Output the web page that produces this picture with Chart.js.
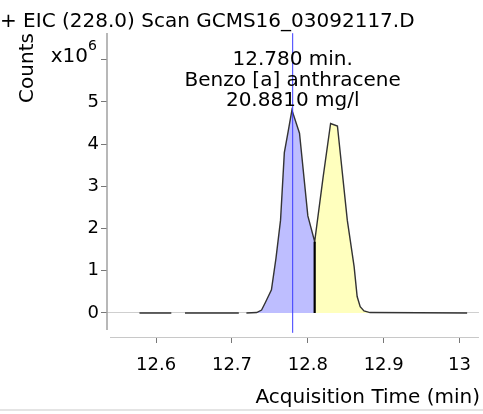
<!DOCTYPE html>
<html>
<head>
<meta charset="utf-8">
<script src="https://cdn.jsdelivr.net/npm/chart.js@4/dist/chart.umd.min.js"></script>
<style>
html, body { margin: 0; padding: 0; background: #fff; }
#wrap { width: 483px; height: 414px; position: relative; }
</style>
</head>
<body>
<div id="wrap"><canvas id="chart"></canvas></div>
<script>
// Texts
const titleText = '+ EIC (228.0) Scan GCMS16_03092117.D';
const peakLabels = ['12.780 min.', 'Benzo [a] anthracene', '20.8810 mg/l'];
const yTitle = 'Counts';
const yExponent = 'x10';
const yExponentPower = '6';
const xTitle = 'Acquisition Time (min)';

// Axes
const xTicks = [12.6, 12.7, 12.8, 12.9, 13];
const yTicks = [0, 1, 2, 3, 4, 5, 6];

// EIC trace (counts x10^6), null = gap in the scan data
const traceTime = [12.578, 12.620, 12.629, 12.638, 12.709, 12.714, 12.719, 12.7325, 12.739, 12.744, 12.752, 12.758,
	12.764, 12.769, 12.774, 12.779, 12.789, 12.800, 12.809, 12.820, 12.830, 12.839, 12.852, 12.861, 12.865, 12.869,
	12.874, 12.882, 13.010];
const traceCounts = [0, 0, null, 0, 0, null, 0, 0.01, 0.07, 0.25, 0.55, 1.3,
	2.2, 3.8, 4.3, 4.81, 4.26, 2.3, 1.69, 3.2, 4.49, 4.43, 2.2, 1.1, 0.39, 0.15,
	0.05, 0.01, 0];

// Integration
const peakTime = 12.78;
const peakStart = 12.7325;
const splitTime = 12.809;
const peakEnd = 12.882;
const markerRange = [-0.47, 6.63];

const trace = traceTime.map((t, i) => ({ x: t, y: traceCounts[i] }));
const blueArea = trace.filter((p) => p.x >= peakStart && p.x <= splitTime);
const yellowArea = trace.filter((p) => p.x >= splitTime && p.x <= peakEnd);
const splitCounts = traceCounts[traceTime.indexOf(splitTime)];

Chart.defaults.font.family = 'DejaVu Sans';
Chart.defaults.font.size = 18;
Chart.defaults.color = '#000';

const textPlugin = {
	id: 'texts',
	beforeDatasetsDraw(chart) {
		const { ctx, chartArea } = chart;
		ctx.save();
		// axis lines
		ctx.strokeStyle = '#a0a0a0';
		ctx.lineWidth = 1.5;
		ctx.beginPath();
		ctx.moveTo(chartArea.left, chartArea.top);
		ctx.lineTo(chartArea.left, chartArea.bottom - 7);
		ctx.stroke();
		ctx.strokeStyle = '#c8c8c8';
		ctx.lineWidth = 1;
		ctx.beginPath();
		ctx.moveTo(chartArea.left + 3, chartArea.bottom + 0.5);
		ctx.lineTo(chartArea.right, chartArea.bottom + 0.5);
		ctx.stroke();
		// bottom frame
		ctx.strokeStyle = '#e4e4e4';
		ctx.lineWidth = 2;
		ctx.beginPath();
		ctx.moveTo(0, 410);
		ctx.lineTo(chart.width, 410);
		ctx.stroke();
		ctx.restore();
	},
	afterDraw(chart) {
		const { ctx, scales } = chart;
		ctx.save();
		ctx.fillStyle = '#000';
		ctx.textBaseline = 'alphabetic';

		ctx.font = '20px "DejaVu Sans"';
		ctx.textAlign = 'left';
		ctx.fillText(titleText, 0, 27);

		// x10^6
		ctx.textAlign = 'right';
		ctx.font = '14px "DejaVu Sans"';
		ctx.fillText(yExponentPower, 97, 50);
		ctx.font = '20px "DejaVu Sans"';
		ctx.fillText(yExponent, 88, 62);

		// Counts
		ctx.save();
		ctx.translate(33, 68);
		ctx.rotate(-Math.PI / 2);
		ctx.textAlign = 'center';
		ctx.fillText(yTitle, 0, 0);
		ctx.restore();

		// peak label
		const px = scales.x.getPixelForValue(peakTime);
		ctx.textAlign = 'center';
		peakLabels.forEach((s, i) => ctx.fillText(s, px, 65 + i * 20.7));

		// x title
		ctx.textAlign = 'right';
		ctx.fillText(xTitle, 480, 403);
		ctx.restore();
	}
};

const canvas = document.getElementById('chart');

const graph = new Chart(canvas, {
	type: 'line',
	data: {
		datasets: [
			{
				data: markerRange.map((v) => ({ x: peakTime, y: v })),
				borderColor: '#3a3aff',
				borderWidth: 1,
				pointRadius: 0,
				order: 0
			},
			{
				data: [{ x: splitTime, y: 0 }, { x: splitTime, y: splitCounts }],
				borderColor: '#000',
				borderWidth: 2.2,
				pointRadius: 0,
				order: 1
			},
			{
				data: trace,
				borderColor: '#333',
				borderWidth: 1.4,
				pointRadius: 0,
				spanGaps: false,
				order: 2
			},
			{
				data: blueArea,
				borderWidth: 0,
				backgroundColor: 'rgb(190,190,255)',
				fill: 'origin',
				pointRadius: 0,
				order: 3
			},
			{
				data: yellowArea,
				borderWidth: 0,
				backgroundColor: 'rgb(255,255,190)',
				fill: 'origin',
				pointRadius: 0,
				order: 4
			}
		]
	},
	options: {
		responsive: true,
		maintainAspectRatio: false,
		animation: false,
		clip: false,
		layout: { padding: { top: 33, left: 0, right: 0, bottom: 0 } },
		plugins: { legend: { display: false }, tooltip: { enabled: false } },
		scales: {
			x: {
				type: 'linear',
				min: 12.5352,
				max: 13.0256,
				afterBuildTicks: (scale) => { scale.ticks = xTicks.map((v) => ({ value: v })); },
				afterFit: (scale) => { scale.height = 77; },
				border: { display: false },
				grid: { drawOnChartArea: false, tickLength: 6, tickColor: '#777', lineWidth: 1 },
				ticks: {
					padding: 12,
					maxRotation: 0,
					callback: (v) => String(Number(v.toFixed(1)))
				}
			},
			y: {
				min: -0.569,
				max: 6.635,
				afterBuildTicks: (scale) => { scale.ticks = yTicks.map((v) => ({ value: v })); },
				afterFit: (scale) => { scale.width = 107; },
				border: { display: false },
				grid: {
					color: (c) => (c.tick && c.tick.value === 0 ? '#cfcfcf' : 'rgba(0,0,0,0)'),
					tickColor: '#777',
					tickLength: 6,
					lineWidth: 1
				},
				ticks: {
					padding: 2,
					callback: (v) => (v === 6 ? '' : String(v))
				}
			}
		}
	},
	plugins: [textPlugin]
});
</script>
</body>
</html>
